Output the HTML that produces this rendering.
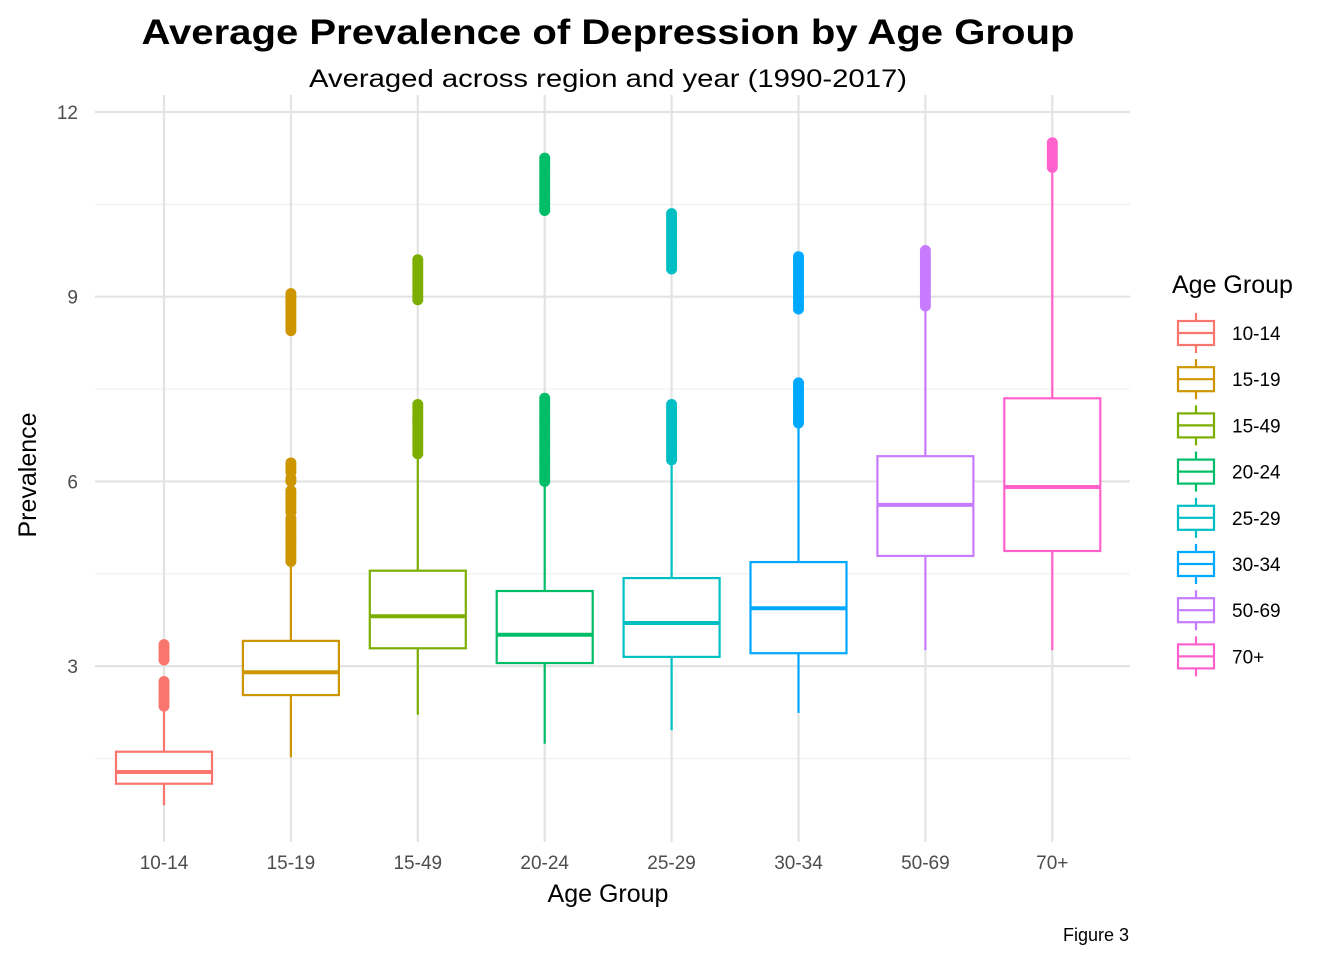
<!DOCTYPE html>
<html><head><meta charset="utf-8"><style>
body{margin:0;background:#fff;}
svg{display:block;font-family:"Liberation Sans",Arial,sans-serif;}
</style></head><body>
<svg id="chart" width="1344" height="960" viewBox="0 0 1344 960">
<text x="608" y="44" text-anchor="middle" font-size="35" font-weight="bold" fill="#000" textLength="933" lengthAdjust="spacingAndGlyphs">Average Prevalence of Depression by Age Group</text>
<text x="608" y="87" text-anchor="middle" font-size="25" fill="#000" textLength="598" lengthAdjust="spacingAndGlyphs">Averaged across region and year (1990-2017)</text>
<g id="grid"></g>
<g id="boxes"></g>
<g id="axes"></g>
<text x="608" y="902" text-anchor="middle" font-size="25" fill="#000">Age Group</text>
<text transform="translate(36,475) rotate(-90)" text-anchor="middle" font-size="25" fill="#000">Prevalence</text>
<text x="1129" y="941" text-anchor="end" font-size="18" fill="#000">Figure 3</text>
<g id="legend">
<text x="1172" y="293" font-size="25" fill="#000">Age Group</text>
</g>
</svg>
<script>
const categories = ["10-14","15-19","15-49","20-24","25-29","30-34","50-69","70+"];
const colors = ["#F8766D","#CD9600","#7CAE00","#00BE67","#00BFC4","#00A9FF","#C77CFF","#FF61CC"];
const whiskerLow = [0.74,1.52,2.21,1.74,1.96,2.24,3.26,3.26];
const q1 = [1.09,2.53,3.29,3.05,3.15,3.21,4.79,4.87];
const medians = [1.28,2.90,3.81,3.51,3.70,3.94,5.62,5.91];
const q3 = [1.61,3.41,4.55,4.22,4.43,4.69,6.41,7.35];
const whiskerHigh = [2.33,4.70,6.40,5.95,6.30,6.90,8.85,11.05];
const outliers = [
 [2.35,2.4,2.45,2.5,2.55,2.6,2.65,2.7,2.75,3.1,3.15,3.2,3.25,3.3,3.35],
 [4.7,4.75,4.8,4.85,4.9,4.95,5.0,5.05,5.1,5.15,5.2,5.25,5.3,5.35,5.4,5.5,5.55,5.6,5.65,5.7,5.75,5.8,5.85,6.0,6.05,6.15,6.2,6.25,6.3,8.45,8.5,8.55,8.6,8.65,8.7,8.75,8.8,8.85,8.9,8.95,9.0,9.05],
 [6.45,6.5,6.55,6.6,6.65,6.7,6.75,6.8,6.85,6.9,6.95,7.0,7.05,7.1,7.15,7.2,7.25,8.95,9.0,9.05,9.1,9.15,9.2,9.25,9.3,9.35,9.4,9.45,9.5,9.55,9.6],
 [6.0,6.05,6.1,6.15,6.2,6.25,6.3,6.35,6.4,6.45,6.5,6.55,6.6,6.65,6.7,6.75,6.8,6.85,6.9,6.95,7.0,7.05,7.1,7.15,7.2,7.25,7.3,7.35,10.4,10.45,10.5,10.55,10.6,10.65,10.7,10.75,10.8,10.85,10.9,10.95,11.0,11.05,11.1,11.15,11.2,11.25],
 [6.35,6.4,6.45,6.5,6.55,6.6,6.65,6.7,6.75,6.8,6.85,6.9,6.95,7.0,7.05,7.1,7.15,7.2,7.25,9.45,9.5,9.55,9.6,9.65,9.7,9.75,9.8,9.85,9.9,9.95,10.0,10.05,10.1,10.15,10.2,10.25,10.3,10.35],
 [6.95,7.0,7.05,7.1,7.15,7.2,7.25,7.3,7.35,7.4,7.45,7.5,7.55,7.6,8.8,8.85,8.9,8.95,9.0,9.05,9.1,9.15,9.2,9.25,9.3,9.35,9.4,9.45,9.5,9.55,9.6,9.65],
 [8.85,8.9,8.95,9.0,9.05,9.1,9.15,9.2,9.25,9.3,9.35,9.4,9.45,9.5,9.55,9.6,9.65,9.7,9.75],
 [11.1,11.15,11.2,11.25,11.3,11.35,11.4,11.45,11.5]
];
const yTicks = [3,6,9,12];
const yMinor = [1.5,4.5,7.5,10.5];
const NS="http://www.w3.org/2000/svg";
function y(v){return 112+(12-v)*61.57;}
function x(i){return 164+i*126.9;}
function mk(parent,tag,attrs){const e=document.createElementNS(NS,tag);for(const k in attrs)e.setAttribute(k,attrs[k]);parent.appendChild(e);return e;}
const grid=document.getElementById('grid'),boxes=document.getElementById('boxes'),axes=document.getElementById('axes'),legend=document.getElementById('legend');
const L=95,R=1130,T=95,B=842;
yMinor.forEach(v=>{const l=mk(grid,'line',{x1:L,x2:R,y1:y(v),y2:y(v),stroke:'#f0f0f0','stroke-width':1.2});

});
yTicks.forEach(v=>{const l=mk(grid,'line',{x1:L,x2:R,y1:y(v),y2:y(v),stroke:'#e3e3e3','stroke-width':2.2});


const t=mk(axes,'text',{x:78,y:y(v)+7,'text-anchor':'end','font-size':19,fill:'#4d4d4d'});t.textContent=v;

});
categories.forEach((c,i)=>{const l=mk(grid,'line',{x1:x(i),x2:x(i),y1:T,y2:B,stroke:'#e3e3e3','stroke-width':2.2});


const t=mk(axes,'text',{x:x(i),y:869,'text-anchor':'middle','font-size':19,fill:'#4d4d4d'});t.textContent=c;


const g=mk(boxes,'g',{stroke:colors[i],fill:'none'});


const cx=x(i),w=48;
mk(g,'line',{x1:cx,x2:cx,y1:y(whiskerLow[i]),y2:y(q1[i]),'stroke-width':2.2});
mk(g,'line',{x1:cx,x2:cx,y1:y(q3[i]),y2:y(whiskerHigh[i]),'stroke-width':2.2});
mk(g,'rect',{x:cx-w,y:y(q3[i]),width:2*w,height:y(q1[i])-y(q3[i]),'stroke-width':2.2,fill:'#fff'});
mk(g,'line',{x1:cx-w,x2:cx+w,y1:y(medians[i]),y2:y(medians[i]),'stroke-width':4});
outliers[i].forEach(v=>{const p=mk(g,'circle',{cx:cx,cy:y(v),r:5.5,fill:colors[i],stroke:'none'});

});
const ly=333+i*46.2;
const lg=mk(legend,'g',{stroke:colors[i],fill:'none','stroke-width':2.2});


mk(lg,'line',{x1:1196,x2:1196,y1:ly-20,y2:ly+20});
mk(lg,'rect',{x:1178,y:ly-12,width:36,height:24,fill:'#fff'});
mk(lg,'line',{x1:1178,x2:1214,y1:ly,y2:ly});
const lt=mk(legend,'text',{x:1232,y:ly+7,'font-size':19,fill:'#000'});lt.textContent=c;


});
</script>
</body></html>
